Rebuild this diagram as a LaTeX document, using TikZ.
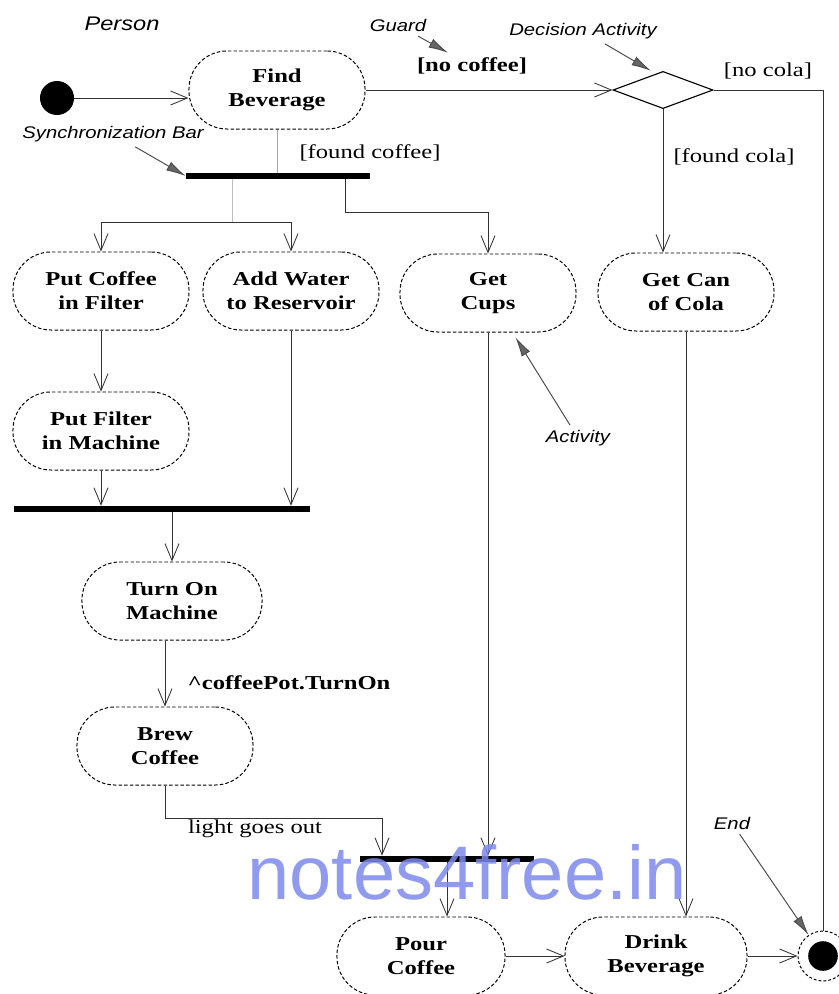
\documentclass[tikz,border=0pt]{standalone}
\usepackage{fontspec}
\setmainfont[FakeStretch=1.25]{Liberation Serif}
\setsansfont[FakeStretch=1.2]{Liberation Sans}
\newfontfamily\markfont{Liberation Sans}
\usepackage{xcolor}
\usepackage{tikz}
\usetikzlibrary{arrows.meta,shapes.geometric}
\definecolor{markblue}{RGB}{125,138,236}

\begin{document}
\begin{tikzpicture}[x=0.025cm, y=-0.025cm,
  act/.style={draw, line width=0.7pt, dash pattern=on 2.5pt off 1.5pt, rounded corners=0.95cm,
    minimum width=4.4cm, minimum height=1.95cm, inner sep=0pt, align=center,
    font=\fontsize{14}{17}\selectfont\bfseries},
  syncbar/.style={fill=black, inner sep=0pt, minimum height=0.15cm},
  note/.style={font=\fontsize{12}{14}\selectfont\sffamily\itshape},
  guard/.style={font=\fontsize{14}{16}\selectfont},
  guardb/.style={font=\fontsize{14}{16}\selectfont\bfseries},
  link/.style={line width=0.6pt, draw=black!80},
  flow/.style={link, -{Straight Barb[length=12pt,width=10pt]}},
  pointer/.style={line width=0.7pt, draw=black!70, -{Latex[length=14pt,width=7pt,fill=black!60]}}]
  \useasboundingbox (0,0) rectangle (838,994);

  % start, decision and bars
  \node[circle, fill, minimum size=0.85cm, inner sep=0pt] (start) at (57,98) {};
  \node[act] (find) at (277,90) {Find\\Beverage};
  \node[diamond, draw, line width=0.8pt, aspect=2.7, minimum width=2.5cm, minimum height=0.93cm, inner sep=0pt] (decide) at (663,90) {};
  \node[syncbar, minimum width=4.6cm] (bar1) at (278,176) {};

  \node[act] (filter) at (101,291) {Put Coffee\\in Filter};
  \node[act] (water) at (291,291) {Add Water\\to Reservoir};
  \node[act] (cups) at (488,293) {Get\\Cups};
  \node[act] (cola) at (686,292) {Get Can\\of Cola};
  \node[act] (machine) at (101,431) {Put Filter\\in Machine};
  \node[syncbar, minimum width=7.4cm] (bar2) at (162,509) {};
  \node[act, minimum width=4.5cm] (turnon) at (172,601) {Turn On\\Machine};
  \node[act] (brew) at (165,746) {Brew\\Coffee};
  \node[syncbar, minimum width=4.35cm] (bar3) at (447,859) {};
  \node[act, minimum width=4.2cm] (pour) at (421,956) {Pour\\Coffee};
  \node[act, minimum width=4.55cm] (drink) at (656,956) {Drink\\Beverage};
  \node[circle, draw, line width=0.7pt, dash pattern=on 2pt off 1.5pt, minimum size=1.25cm, inner sep=0pt] (end) at (823,956) {};
  \fill (end.center) circle (0.37cm);

  % labels
  \node[note, font=\fontsize{14}{16}\selectfont\sffamily\itshape] (person) at (122,24) {Person};
  \node[note] (guardnote) at (398,25) {Guard};
  \node[note] (decnote) at (583,31) {Decision Activity};
  \node[note] (syncnote) at (113,134) {Synchronization Bar};
  \node[note] (actnote) at (578,438) {Activity};
  \node[note] (endnote) at (732,823) {End};
  \node[guardb] (nocoffee) at (472,66) {[no coffee]};
  \node[guard] (foundcoffee) at (370,153) {[found coffee]};
  \node[guard] (nocola) at (768,71) {[no cola]};
  \node[guard] (foundcola) at (734,157) {[found cola]};
  \node[guardb] (signal) at (289,683) {\textasciicircum coffeePot.TurnOn};
  \node[guard] (lightout) at (255,829) {light goes out};

  % flows
  \draw[flow] (start.east) -- (start.east -| find.west);
  \draw[link, draw=black!35] (find.south) -- (find.south |- bar1.north);
  \draw[flow] (find.east) -- (decide.west);
  \coordinate (corner) at (823,90);
  \draw[link] (decide.east) -- (corner) -- (end.north);
  \draw[flow] (decide.south) -- (decide.south |- cola.north);
  \draw[flow] (bar1.south) ++(67,0) -- ++(0,33) -| (cups.north);
  \coordinate (fork) at (232,222);
  \draw[link, draw=black!25] (bar1.south -| fork) -- (fork);
  \draw[flow] (fork) -| (filter.north);
  \draw[flow] (fork) -| (water.north);
  \draw[flow] (filter.south) -- (machine.north);
  \draw[flow] (machine.south) -- (machine.south |- bar2.north);
  \draw[flow] (water.south) -- (water.south |- bar2.north);
  \draw[flow] (bar2.south -| turnon.north) -- (turnon.north);
  \draw[flow] (brew.north |- turnon.south) -- (brew.north);
  \coordinate (joinin) at (382,818);
  \draw[link] (brew.south) |- (joinin);
  \draw[flow] (joinin) -- (joinin |- bar3.north);
  \draw[flow] (cups.south) -- (cups.south |- bar3.north);
  \draw[flow] (bar3.south) -- (bar3.south |- pour.north);
  \draw[flow] (cola.south) -- (cola.south |- drink.north);
  \draw[flow] (pour.east) -- (drink.west);
  \draw[flow] (drink.east) -- (end.west);

  % annotation pointers
  \draw[pointer] (guardnote) -- (nocoffee);
  \draw[pointer] (decnote) -- ([xshift=-0.3cm]decide.north);
  \draw[pointer] (syncnote) -- (bar1.west);
  \draw[pointer, shorten >=4pt] (actnote) -- (cups);
  \draw[pointer] (endnote) -- (end);

  \node[text=markblue, opacity=0.85, font=\fontsize{54}{58}\selectfont\markfont, anchor=base] (mark) at (467,899) {notes4free.in};
\end{tikzpicture}
\end{document}
